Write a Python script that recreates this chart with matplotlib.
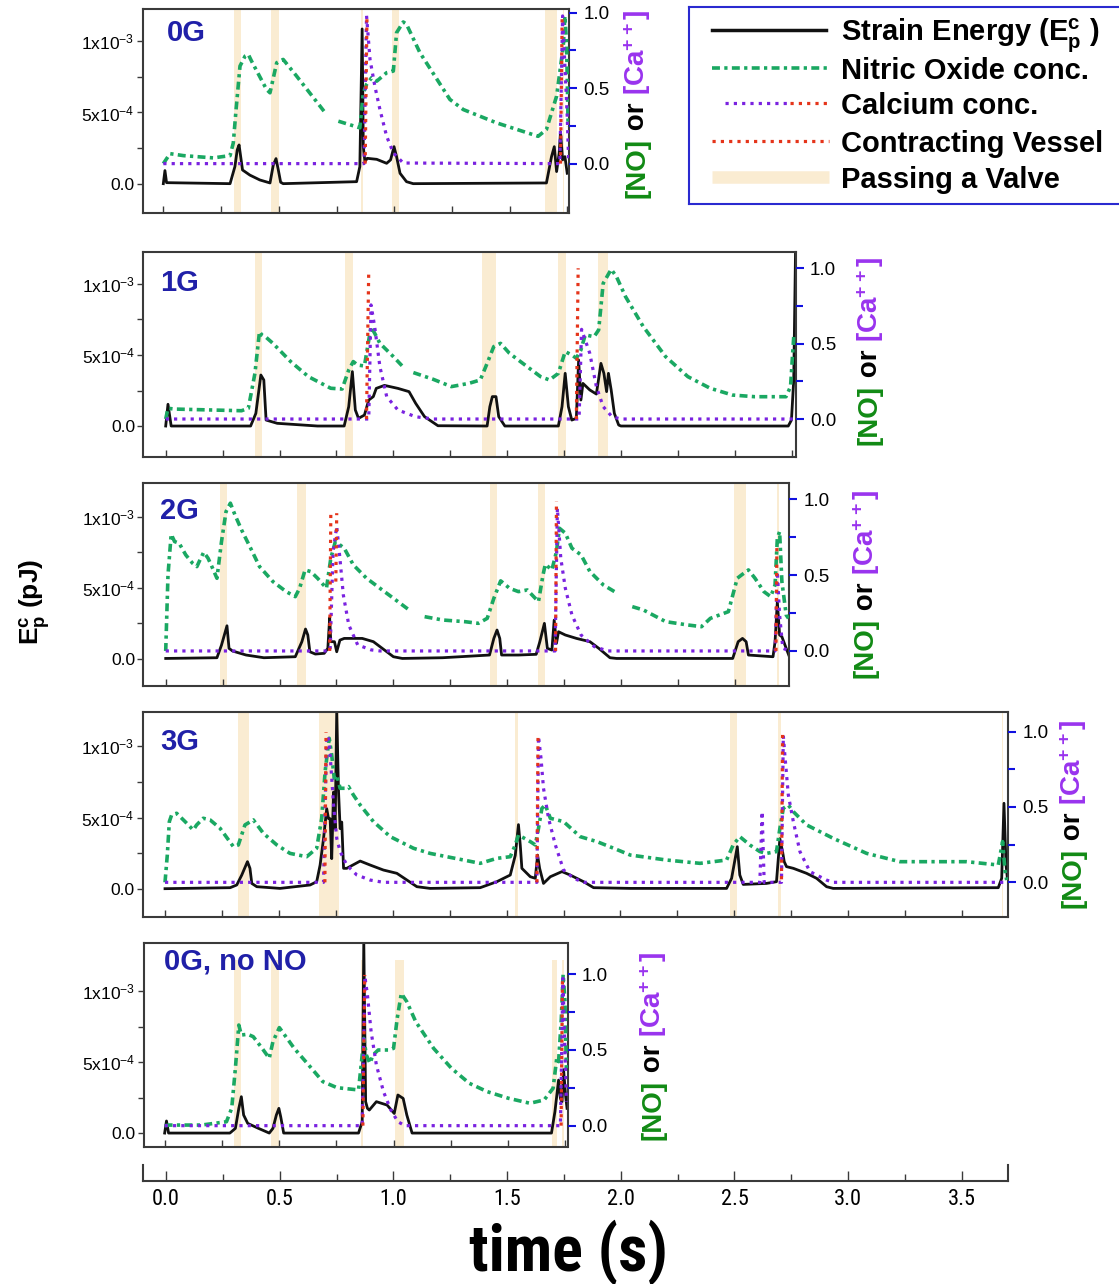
import numpy as np
import matplotlib
matplotlib.use('Agg')
from matplotlib import pyplot as plt
from matplotlib import font_manager

nan = np.nan

# time in s, strain energy in units of 1e-4 pJ, [NO] and [Ca++] normalised
# ---------------- 0G
t_ep_0g = [0.0, 0.007, 0.014, 0.289, 0.310, 0.320, 0.328, 0.335, 0.343, 0.375, 0.418, 0.462, 0.476, 0.488, 0.498, 0.508, 0.519,
           0.837, 0.851, 0.861, 0.866, 0.873, 0.883, 0.924, 0.967, 0.984, 0.999, 1.010, 1.025, 1.053, 1.082,
           1.659, 1.681, 1.693, 1.703, 1.714, 1.720, 1.729, 1.739, 1.749]
ep_0g = [0.0, 0.92, 0.07, 0.0, 1.2, 2.37, 2.72, 1.9, 0.96, 0.6, 0.26, 0.05, 1.3, 1.76, 0.96, 0.1, 0.0,
         0.14, 1.2, 10.87, 2.6, 1.55, 1.78, 1.71, 1.43, 1.67, 2.6, 1.9, 0.73, 0.14, 0.0,
         0.05, 1.9, 2.6, 0.85, 2.14, 3.66, 1.67, 1.9, 0.73]
t_no_0g = [0.0, 0.029, 0.087, 0.216, 0.289, 0.303, 0.315, 0.332, 0.354, 0.368, 0.382, 0.447, 0.462, 0.491, 0.519, 0.577, 0.707, nan,
           0.758, 0.851, 0.866, 0.880, 0.902, 0.924, 0.967, 0.996, 1.010, 1.039, 1.053, 1.111, 1.241, 1.299, 1.443, 1.623,
           1.659, 1.703, 1.732, 1.739, 1.746, 1.753]
no_0g = [0.0, 0.066, 0.053, 0.038, 0.053, 0.137, 0.358, 0.646, 0.712, 0.723, 0.679, 0.491, 0.469, 0.668, 0.690, 0.580, 0.325, nan,
         0.281, 0.237, 0.469, 0.524, 0.569, 0.546, 0.602, 0.613, 0.867, 0.938, 0.923, 0.735, 0.425, 0.358, 0.270, 0.181,
         0.226, 0.447, 0.779, 0.978, 0.801, 0.248]
t_ca_0g = [0.0, 0.869, 0.880, 0.895, 0.916, 0.938, 0.967, 0.996, 1.039, 1.717, 1.729, 1.739, 1.749, 1.755]
ca_0g = [0.0, 0.0, 0.98, 0.69, 0.513, 0.358, 0.181, 0.071, 0.004, 0.0, 0.978, 0.646, 0.314, 0.027]
t_red_0g = [0.874, 0.882, nan, 1.720, 1.727]
red_0g = [0.0, 0.99, nan, 0.0, 0.97]
valve_on_0g = [0.307, 0.466, 0.857, 0.991, 1.652, 1.729]
valve_off_0g = [0.335, 0.499, 0.866, 1.022, 1.703, 1.737]

# ---------------- 1G
t_ep_1g = [0.0, 0.010, 0.024, 0.373, 0.396, 0.418, 0.431, 0.441, 0.490, 0.667, 0.784, 0.804, 0.820, 0.833, 0.847,
           0.873, 0.892, 0.912, 0.925, 0.961, 1.020, 1.069, 1.098, 1.137, 1.196, 1.412, 1.424, 1.435, 1.451, 1.463,
           1.490, 1.725, 1.741, 1.755, 1.769, 1.784, 1.804, 1.814, 1.824, 1.833, 1.863, 1.892, 1.912, 1.925, 1.937,
           1.945, 1.957, 1.971, 1.990, 2.0, 2.735, 2.749, 2.759, 2.767]
ep_1g = [0.0, 1.53, 0.0, 0.0, 0.89, 3.59, 3.24, 0.42, 0.19, 0.0, 0.0, 1.36, 3.83, 1.13, 0.54,
         0.77, 1.83, 2.07, 2.65, 2.86, 2.65, 2.42, 1.6, 0.66, 0.02, 0.0, 1.36, 2.07, 2.07, 0.66,
         0.0, 0.0, 1.36, 3.71, 1.36, 0.42, 0.54, 4.65, 1.83, 3.0, 2.54, 2.25, 4.41, 3.71, 2.42,
         3.71, 2.54, 0.89, 0.07, 0.0, 0.0, 0.42, 3.24, 12.4]
t_no_1g = [0.0, 0.010, 0.039, 0.333, 0.363, 0.392, 0.412, 0.422, 0.441, 0.471, 0.549, 0.627, 0.725, 0.775, 0.804,
           0.824, 0.843, 0.873, 0.902, 0.918, 0.941, 1.0, 1.039, nan, 1.088, 1.176, 1.255, 1.333, 1.382, 1.412,
           1.441, 1.471, 1.510, 1.569, 1.647, 1.686, 1.725, 1.755, 1.784, 1.804, 1.824, 1.843, 1.882, 1.902, 1.922,
           1.957, 1.980, 2.020, 2.098, 2.196, 2.294, 2.392, 2.490, 2.588, 2.725, 2.745, 2.759]
no_1g = [0.0, 0.071, 0.066, 0.055, 0.071, 0.303, 0.580, 0.558, 0.542, 0.502, 0.381, 0.281, 0.204, 0.199, 0.325,
         0.381, 0.358, 0.352, 0.613, 0.569, 0.502, 0.414, 0.352, nan, 0.308, 0.263, 0.215, 0.237, 0.259, 0.369,
         0.480, 0.502, 0.436, 0.369, 0.281, 0.259, 0.303, 0.447, 0.425, 0.403, 0.458, 0.558, 0.546, 0.591, 0.900,
         0.993, 0.945, 0.812, 0.613, 0.414, 0.281, 0.204, 0.159, 0.148, 0.148, 0.215, 0.546]
t_ca_1g = [0.0, 0.892, 0.902, 0.918, 0.941, 0.971, 1.020, 1.098, 1.176, 1.816, 1.827, 1.843, 1.863, 1.892, 1.922, 1.961, 2.0, 2.759]
ca_1g = [0.0, 0.0, 0.757, 0.613, 0.347, 0.148, 0.060, 0.015, 0.0, 0.0, 0.595, 0.524, 0.436, 0.215, 0.082, 0.015, 0.0, 0.0]
t_red_1g = [0.882, 0.892, nan, 1.804, 1.812]
red_1g = [0.0, 0.99, nan, 0.0, 1.0]
valve_on_1g = [0.392, 0.788, 1.388, 1.722, 1.898]
valve_off_1g = [0.425, 0.822, 1.451, 1.759, 1.941]

# ---------------- 2G
t_ep_2g = [0.0, 0.225, 0.245, 0.269, 0.278, 0.294, 0.353, 0.431, 0.569, 0.598, 0.614, 0.624, 0.633, 0.657, 0.696,
           0.712, 0.720, 0.725, 0.741, 0.751, 0.765, 0.784, 0.863, 0.912, 0.951, 1.0, 1.039, 1.216, 1.422, 1.441,
           1.455, 1.467, 1.475, 1.549, 1.627, 1.643, 1.663, 1.676, 1.696, 1.706, 1.716, 1.725, 1.755, 1.804, 1.863,
           1.902, 1.951, 1.980, 2.490, 2.514, 2.533, 2.549, 2.559, 2.667, 2.676, 2.686, 2.696, 2.706, 2.725, 2.739]
ep_2g = [0.02, 0.07, 0.96, 2.32, 0.73, 0.54, 0.26, 0.07, 0.14, 1.2, 2.09, 1.67, 0.49, 0.33, 0.38,
         0.73, 2.89, 1.2, 1.2, 0.49, 1.31, 1.43, 1.43, 1.2, 0.73, 0.14, 0.02, 0.07, 0.26, 1.43,
         2.02, 1.43, 0.26, 0.26, 0.31, 1.2, 2.49, 0.73, 0.61, 2.72, 1.08, 1.9, 1.67, 1.43, 1.2,
         0.73, 0.07, 0.02, 0.02, 1.2, 1.43, 1.2, 0.26, 0.14, 1.2, 4.01, 1.67, 1.55, 0.73, 0.14]
t_no_2g = [0.0, 0.010, 0.024, 0.039, 0.059, 0.088, 0.118, 0.137, 0.147, 0.167, 0.186, 0.206, 0.225, 0.245, 0.265,
           0.284, 0.304, 0.333, 0.373, 0.412, 0.471, 0.529, 0.569, 0.588, 0.612, 0.637, 0.667, 0.706, 0.725, 0.745,
           0.765, 0.784, 0.824, 0.882, 0.941, 1.020, 1.069, nan, 1.137, 1.216, 1.314, 1.373, 1.412, 1.441, 1.471,
           1.510, 1.549, 1.588, 1.637, 1.657, 1.667, 1.696, 1.716, 1.729, 1.755, 1.784, 1.824, 1.863, 1.922, 1.971,
           nan, 2.049, 2.098, 2.196, 2.294, 2.353, 2.392, 2.471, 2.510, 2.529, 2.559, 2.588, 2.627, 2.657, 2.676,
           2.686, 2.696, 2.706, 2.725, 2.735]
no_2g = [0.0, 0.501, 0.769, 0.721, 0.710, 0.633, 0.578, 0.556, 0.589, 0.651, 0.611, 0.545, 0.479, 0.721, 0.919,
         0.974, 0.897, 0.798, 0.677, 0.556, 0.457, 0.391, 0.358, 0.413, 0.534, 0.523, 0.479, 0.413, 0.611, 0.721,
         0.699, 0.677, 0.567, 0.479, 0.413, 0.325, 0.270, nan, 0.226, 0.204, 0.193, 0.182, 0.215, 0.347, 0.462,
         0.413, 0.391, 0.402, 0.325, 0.501, 0.571, 0.534, 0.655, 0.809, 0.776, 0.677, 0.633, 0.523, 0.435, 0.391,
         nan, 0.292, 0.270, 0.193, 0.171, 0.160, 0.215, 0.259, 0.479, 0.501, 0.534, 0.479, 0.391, 0.358, 0.435,
         0.743, 0.787, 0.457, 0.237, 0.215]
t_ca_2g = [0.0, 0.722, 0.735, 0.751, 0.765, 0.780, 0.804, 0.843, 0.902, 0.941, 1.710, 1.720, 1.735, 1.755, 1.784,
           1.824, 1.882, 1.941, 2.676, 2.686, 2.696, 2.710, 2.739]
ca_2g = [0.0, 0.0, 0.655, 0.820, 0.611, 0.369, 0.171, 0.040, 0.007, 0.0, 0.0, 0.941, 0.611, 0.413, 0.237,
         0.105, 0.029, 0.0, 0.0, 0.523, 0.237, 0.018, 0.0]
t_red_2g = [0.720, 0.725, nan, 0.747, 0.751, nan, 1.712, 1.716, nan, 2.680, 2.684]
red_2g = [0.0, 0.897, nan, 0.457, 0.908, nan, 0.0, 0.987, nan, 0.0, 0.686]
valve_on_2g = [0.239, 0.578, 1.422, 1.637, 2.494, 2.686]
valve_off_2g = [0.271, 0.618, 1.457, 1.667, 2.549, 2.692]

# ---------------- 3G
t_ep_3g = [0.0, 0.286, 0.315, 0.337, 0.362, 0.373, 0.381, 0.403, 0.505, 0.637, 0.666, 0.681, 0.696, 0.710, 0.718,
           0.725, 0.732, 0.740, 0.747, 0.754, 0.762, 0.769, 0.776, 0.784, 0.798, 0.857, 0.901, 0.959, 1.018, 1.062,
           1.106, 1.164, 1.384, 1.457, 1.516, 1.538, 1.552, 1.560, 1.567, 1.604, 1.626, 1.636, 1.645, 1.662, 1.692,
           1.743, 1.779, 1.838, 1.882, 2.043, 2.466, 2.488, 2.513, 2.524, 2.539, 2.641, 2.685, 2.700, 2.712, 2.719,
           2.729, 2.759, 2.817, 2.861, 2.905, 2.934, 3.659, 3.674, 3.684, 3.693, 3.699]
ep_3g = [0.0, 0.07, 0.26, 0.96, 1.9, 1.43, 0.37, 0.14, 0.02, 0.26, 0.49, 1.66, 3.51, 5.62, 4.92,
         4.92, 2.11, 6.79, 4.22, 12.4, 6.79, 4.22, 4.68, 1.43, 1.43, 1.94, 1.66, 1.31, 1.08, 0.61,
         0.14, 0.02, 0.07, 0.49, 0.96, 2.34, 4.5, 3.05, 1.43, 0.84, 0.73, 2.36, 1.43, 0.37, 0.84,
         1.2, 0.96, 0.49, 0.07, 0.02, 0.02, 0.73, 2.95, 0.96, 0.3, 0.37, 0.49, 3.51, 2.58, 1.9,
         1.55, 1.43, 1.08, 0.73, 0.14, 0.02, 0.07, 0.73, 6.0, 1.67, 0.73]
t_no_3g = [0.0, 0.010, 0.019, 0.029, 0.051, 0.088, 0.124, 0.139, 0.168, 0.198, 0.242, 0.300, 0.322, 0.351, 0.388,
           0.432, 0.491, 0.549, 0.622, 0.666, 0.688, 0.703, 0.721, 0.732, 0.743, 0.754, 0.769, 0.791, 0.806, 0.827,
           0.857, 0.915, 0.989, 1.091, 1.164, 1.311, 1.384, 1.457, 1.516, 1.538, 1.552, 1.604, 1.626, 1.640, 1.655,
           1.670, 1.692, 1.750, 1.823, 1.897, 1.970, 2.043, 2.202, 2.349, 2.466, 2.495, 2.524, 2.568, 2.612, 2.641,
           2.685, 2.700, 2.715, 2.737, 2.759, 2.817, 2.934, 3.081, 3.227, 3.374, 3.520, 3.659, 3.678, 3.689, 3.696]
no_3g = [0.0, 0.181, 0.403, 0.447, 0.458, 0.403, 0.347, 0.381, 0.425, 0.414, 0.358, 0.237, 0.248, 0.381, 0.414,
         0.325, 0.248, 0.192, 0.170, 0.226, 0.425, 0.735, 0.956, 0.845, 0.690, 0.712, 0.624, 0.624, 0.635, 0.580,
         0.513, 0.403, 0.303, 0.226, 0.192, 0.148, 0.126, 0.159, 0.170, 0.248, 0.314, 0.270, 0.248, 0.358, 0.491,
         0.513, 0.425, 0.403, 0.303, 0.270, 0.226, 0.181, 0.148, 0.126, 0.148, 0.248, 0.303, 0.248, 0.204, 0.192,
         0.204, 0.358, 0.491, 0.513, 0.469, 0.381, 0.292, 0.192, 0.137, 0.137, 0.137, 0.115, 0.270, 0.071, 0.015]
t_ca_3g = [0.0, 0.696, 0.710, 0.718, 0.725, 0.740, 0.754, 0.769, 0.798, 0.842, 0.901, 0.959, 1.633, 1.640, 1.651,
           1.662, 1.684, 1.714, 1.750, 1.794, 1.838, 2.612, 2.622, 2.631, 2.707, 2.715, 2.722, 2.737, 2.759, 2.788,
           2.832, 2.905, 2.934, 3.699]
ca_3g = [0.0, 0.0, 0.973, 0.951, 0.847, 0.513, 0.292, 0.204, 0.115, 0.049, 0.015, 0.0, 0.0, 0.967, 0.823,
         0.624, 0.425, 0.248, 0.082, 0.027, 0.0, 0.0, 0.469, 0.0, 0.0, 0.973, 0.841, 0.580, 0.403, 0.204,
         0.071, 0.015, 0.0, 0.0]
t_red_3g = [0.702, 0.707, nan, 1.633, 1.638, nan, 2.707, 2.712]
red_3g = [0.0, 0.996, nan, 0.0, 0.969, nan, 0.02, 0.993]
valve_on_3g = [0.319, 0.674, 1.535, 2.480, 2.693, 3.677]
valve_off_3g = [0.369, 0.766, 1.550, 2.513, 2.703, 3.681]

# ---------------- 0G, no NO
t_ep_nono = [0.0, 0.008, 0.017, 0.285, 0.309, 0.324, 0.335, 0.345, 0.363, 0.410, 0.457, 0.473, 0.488, 0.499, 0.507,
             0.520, 0.847, 0.863, 0.870, 0.878, 0.886, 0.894, 0.925, 0.972, 1.003, 1.019, 1.042, 1.058, 1.081, 1.690,
             1.705, 1.721, 1.729, 1.736, 1.743, 1.752, 1.758]
ep_nono = [0.0, 0.85, 0.0, 0.0, 0.33, 1.74, 2.56, 1.27, 0.68, 0.33, 0.0, 0.33, 1.27, 1.74, 1.15,
           0.0, 0.0, 0.80, 13.5, 2.21, 1.74, 1.62, 2.21, 1.97, 1.38, 2.68, 2.44, 1.27, 0.0, 0.0,
           1.50, 3.73, 2.44, 2.21, 4.46, 2.58, 1.74]
t_no_nono = [0.0, 0.020, 0.161, 0.270, 0.293, 0.309, 0.324, 0.335, 0.363, 0.387, 0.426, 0.457, 0.473, 0.501, 0.519,
             0.566, 0.629, 0.691, 0.753, 0.847, 0.860, 0.870, 0.881, 0.897, 0.910, 0.933, 0.980, 1.000, 1.016, 1.034,
             1.058, 1.097, 1.175, 1.253, 1.331, 1.409, 1.502, 1.596, 1.658, 1.697, 1.713, 1.721, 1.733, 1.741, 1.749,
             1.755]
no_nono = [0.0, 0.004, 0.004, 0.026, 0.115, 0.379, 0.665, 0.599, 0.604, 0.588, 0.511, 0.445, 0.555, 0.648, 0.610,
           0.511, 0.401, 0.291, 0.251, 0.236, 0.423, 0.577, 0.467, 0.412, 0.467, 0.500, 0.500, 0.511, 0.709, 0.874,
           0.819, 0.687, 0.511, 0.379, 0.280, 0.225, 0.181, 0.148, 0.170, 0.247, 0.445, 0.423, 0.709, 1.0, 0.819,
           0.379]
t_ca_nono = [0.0, 0.863, 0.875, 0.886, 0.902, 0.925, 0.956, 0.988, 1.019, 1.050, 1.729, 1.740, 1.747, 1.755]
ca_nono = [0.0, 0.0, 0.985, 0.863, 0.621, 0.401, 0.225, 0.104, 0.026, 0.0, 0.0, 0.973, 0.599, 0.159]
t_red_nono = [0.866, 0.874, nan, 1.732, 1.738]
red_nono = [0.0, 0.996, nan, 0.0, 0.969]
valve_on_nono = [0.303, 0.466, 0.858, 1.006, 1.693, 1.738]
valve_off_nono = [0.332, 0.499, 0.866, 1.045, 1.713, 1.744]

# ---------------- style
GREEN = '#1aa862'
PURPLE = '#7a22e0'
RED = '#e5341a'
BEIGE = '#faecd2'
TITLE = '#2020a8'
NO_LAB = '#118a14'
CA_LAB = '#9933ee'
SPINE = '#3a3a3a'

plt.rcParams['font.family'] = ['Liberation Sans', 'DejaVu Sans']
plt.rcParams['mathtext.default'] = 'regular'

# a condensed face for the time axis, if one is installed
NARROW, NARROW_STRETCH = 'Liberation Sans', 'normal'
fams = {}
for f in font_manager.fontManager.ttflist:
    fams.setdefault(f.name, set()).add(str(f.stretch))
for cand in ['Liberation Sans Narrow', 'Roboto Condensed', 'Open Sans Condensed', 'Noto Sans Condensed']:
    if cand in fams:
        NARROW = cand
        break
else:
    for cand in ['Noto Sans', 'DejaVu Sans', 'Roboto', 'Open Sans']:
        if cand in fams and 'condensed' in fams[cand]:
            NARROW, NARROW_STRETCH = cand, 'condensed'
            break

W, H = 1119, 1284
fig = plt.figure(figsize=(W / 100, H / 100), dpi=100)


def px_axes(l, t, r, b):
    return fig.add_axes([l / W, 1 - b / H, (r - l) / W, (b - t) / H])


def panel(box, xlim, elim, rlim, ep, no, ca, red, valves, vtop=1.0):
    ax = px_axes(*box)
    for a, b in zip(*valves):
        ax.axvspan(a, b, ymin=0, ymax=vtop, color=BEIGE, lw=0, zorder=0)
    ax.plot(ep[0], ep[1], color='#111111', lw=2, zorder=2)
    ax.set_xlim(xlim)
    ax.set_ylim(elim)
    ax.set_yticks([0, 5, 10])
    ax.set_yticklabels(['0.0', '5x10$^{-4}$', '1x10$^{-3}$'])
    ax.set_yticks([2.5, 7.5], minor=True)
    ax.set_xticks(np.arange(0, xlim[1], 0.25))
    ax.tick_params(axis='x', direction='in', length=5, width=1, color=SPINE, labelbottom=False)
    ax.tick_params(axis='y', which='both', direction='out', length=4, width=1, color=SPINE,
                   labelsize=12.5, pad=2)
    for s in ax.spines.values():
        s.set_color(SPINE)
        s.set_linewidth(1.5)

    ax2 = ax.twinx()
    ax2.plot(no[0], no[1], color=GREEN, lw=2.6, ls=(0, (2.2, 1.2, 0.9, 1.2)))
    ax2.plot(ca[0], ca[1], color=PURPLE, lw=2.3, ls=(0, (1, 1.6)))
    ax2.plot(red[0], red[1], color=RED, lw=2.3, ls=(0, (1, 1.6)))
    ax2.set_ylim(rlim)
    ax2.set_xlim(xlim)
    ax2.set_yticks([0, 0.5, 1.0])
    ax2.set_yticklabels(['0.0', '0.5', '1.0'])
    ax2.set_yticks([0.25, 0.75], minor=True)
    ax2.tick_params(axis='y', which='major', direction='out', length=6, width=1.5, color='#1010e0',
                    labelsize=13.5, pad=4)
    ax2.tick_params(axis='y', which='minor', direction='out', length=5, width=1.5, color='#1010e0')
    for s in ax2.spines.values():
        s.set_visible(False)
    return ax


def side_label(x, y0):
    r = fig.canvas.get_renderer()
    y = y0
    for s, c in [('[NO]', NO_LAB), (' or ', 'black'), ('[Ca$^{++}$]', CA_LAB)]:
        t = fig.text(x / W, 1 - y / H, s, rotation=90, rotation_mode='anchor', ha='left', va='center',
                     color=c, fontsize=20, fontweight='bold')
        y -= t.get_window_extent(r).height


def title(x, y, s):
    fig.text(x / W, 1 - y / H, s, ha='left', va='center', color=TITLE, fontsize=21, fontweight='bold')


panel((143, 9.3, 569.3, 212.7), (-0.088, 1.758), (-2.04, 12.25), (-0.325, 1.022),
      (t_ep_0g, ep_0g), (t_no_0g, no_0g), (t_ca_0g, ca_0g), (t_red_0g, red_0g), (valve_on_0g, valve_off_0g))
panel((143.4, 252.3, 796, 456.7), (-0.098, 2.769), (-2.16, 12.23), (-0.25, 1.106),
      (t_ep_1g, ep_1g), (t_no_1g, no_1g), (t_ca_1g, ca_1g), (t_red_1g, red_1g), (valve_on_1g, valve_off_1g))
panel((143.4, 483.3, 789.4, 686), (-0.098, 2.739), (-1.92, 12.35), (-0.231, 1.105),
      (t_ep_2g, ep_2g), (t_no_2g, no_2g), (t_ca_2g, ca_2g), (t_red_2g, red_2g), (valve_on_2g, valve_off_2g))
panel((142.7, 712.3, 1008.3, 917.3), (-0.098, 3.703), (-2.01, 12.39), (-0.232, 1.128),
      (t_ep_3g, ep_3g), (t_no_3g, no_3g), (t_ca_3g, ca_3g), (t_red_3g, red_3g), (valve_on_3g, valve_off_3g))
panel((143.6, 943.3, 567.5, 1146.7), (-0.092, 1.760), (-0.96, 13.36), (-0.139, 1.205),
      (t_ep_nono, ep_nono), (t_no_nono, no_nono), (t_ca_nono, ca_nono), (t_red_nono, red_nono),
      (valve_on_nono, valve_off_nono), vtop=0.918)

title(167, 33, '0G')
title(160, 283, '1G')
title(160, 511, '2G')
title(160, 742, '3G')
title(164, 961, '0G, no NO')

side_label(637, 198)
side_label(870, 445)
side_label(866, 678)
side_label(1073, 908)
side_label(653, 1140)

fig.text(35 / W, 1 - 602 / H, 'E$_p^c$ (pJ)', rotation=90, ha='center', va='center',
         fontsize=19, fontweight='bold')

# shared time axis
axb = px_axes(143, 1165, 1008, 1181)
axb.set_xlim(-0.101, 3.703)
axb.set_ylim(0, 1)
axb.set_yticks([])
axb.set_xticks(np.arange(0, 3.6, 0.5))
axb.set_xticks(np.arange(0.25, 3.6, 0.5), minor=True)
axb.tick_params(axis='x', which='major', direction='in', length=7, width=1, color=SPINE,
                labelsize=16, pad=6)
axb.tick_params(axis='x', which='minor', direction='in', length=5, width=1, color=SPINE)
for lab in axb.get_xticklabels():
    lab.set_family(NARROW)
    lab.set_stretch(NARROW_STRETCH)
axb.spines['top'].set_visible(False)
for k in ['left', 'right', 'bottom']:
    axb.spines[k].set_color(SPINE)
    axb.spines[k].set_linewidth(1.5)
axb.patch.set_visible(False)
fig.text(568 / W, 1 - 1252 / H, 'time (s)', ha='center', va='center', fontsize=46,
         fontweight='bold', family=NARROW, stretch=NARROW_STRETCH)

# legend
axl = px_axes(689, 7, 1124, 204)
axl.set_xlim(689, 1124)
axl.set_ylim(204, 7)
axl.set_xticks([])
axl.set_yticks([])
for s in axl.spines.values():
    s.set_color('#2a2ad0')
    s.set_linewidth(1.5)
axl.plot([712, 826], [30, 30], color='#111111', lw=2.5)
axl.plot([712, 829], [68, 68], color=GREEN, lw=2.6, ls=(0, (2.2, 1.2, 0.9, 1.2)))
axl.plot([725, 790], [103, 103], color=PURPLE, lw=2.3, ls=(0, (1, 1.6)))
axl.plot([790, 829], [103, 103], color=RED, lw=2.3, ls=(0, (1, 1.6)))
axl.plot([712, 829], [141, 141], color=RED, lw=2.3, ls=(0, (1, 1.6)))
axl.plot([712, 829], [177, 177], color=BEIGE, lw=9, solid_capstyle='butt')
for y, s in [(36, 'Strain Energy (E$_p^c$ )'), (71, 'Nitric Oxide conc.'), (106, 'Calcium conc.'),
             (144, 'Contracting Vessel'), (180, 'Passing a Valve')]:
    axl.text(841, y, s, ha='left', va='center', fontsize=21, fontweight='bold')

fig.savefig('out.png', dpi=100)
